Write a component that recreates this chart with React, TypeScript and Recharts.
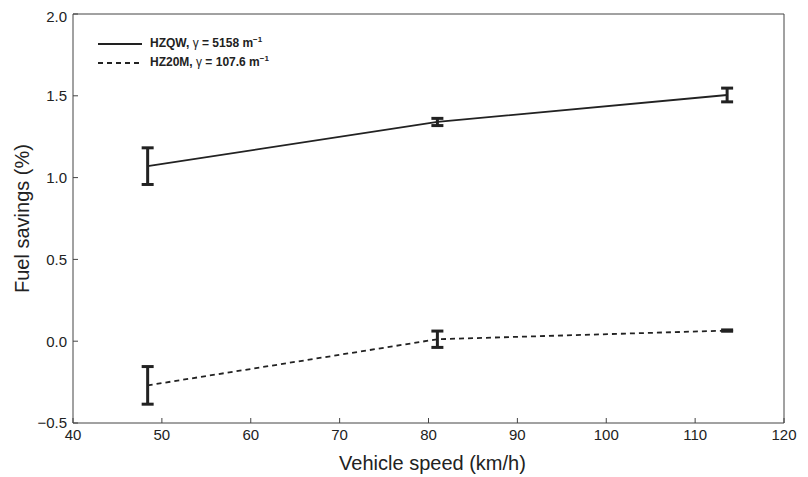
import { LineChart, Line, XAxis, YAxis, ErrorBar, ReferenceLine, Legend } from "recharts";

// vehicle speed (km/h) of the three test points
const speeds = [48.4, 81.0, 113.6];

// HZQW coating
const hzqwSavings = [1.07, 1.34, 1.505];
const hzqwError = [0.112, 0.022, 0.042];

// HZ20M coating
const hz20mSavings = [-0.27, 0.012, 0.065];
const hz20mError = [0.115, 0.05, 0.004];

const xTicks = [40, 50, 60, 70, 80, 90, 100, 110, 120];
const yTicks = [-0.5, 0, 0.5, 1.0, 1.5, 2.0];

const legendRows = [
  { name: "HZQW", gamma: "5158", dash: undefined as string | undefined },
  { name: "HZ20M", gamma: "107.6", dash: "5 4" },
];

const data = speeds.map((s, i) => ({
  speed: s,
  hzqw: hzqwSavings[i],
  hzqwErr: hzqwError[i],
  hz20m: hz20mSavings[i],
  hz20mErr: hz20mError[i],
}));

const INK = "#222";

const fmtY = (v: number) => (v < 0 ? "\u2212" + Math.abs(v).toFixed(1) : v.toFixed(1));

function LegendBox() {
  return (
    <div style={{ fontSize: 12, fontWeight: "bold", color: INK, lineHeight: "19px" }}>
      {legendRows.map((r) => (
        <div key={r.name} style={{ display: "flex", alignItems: "center", height: 19 }}>
          <svg width={46} height={6} style={{ display: "block" }}>
            <line x1={0} y1={3} x2={44} y2={3} stroke={INK} strokeWidth={2} strokeDasharray={r.dash} />
          </svg>
          <span style={{ marginLeft: 6, whiteSpace: "nowrap" }}>
            {r.name}, <span style={{ fontWeight: "normal" }}>γ</span> = {r.gamma} m
            <span style={{ fontSize: 8, verticalAlign: "super", lineHeight: 0 }}>−1</span>
          </span>
        </div>
      ))}
    </div>
  );
}

export default function App() {
  return (
    <div style={{ fontFamily: "'Liberation Sans', Arial, sans-serif" }}>
      <LineChart width={800} height={469} data={data} margin={{ top: 6, right: 24, left: 0, bottom: 0 }}>
        <XAxis
          dataKey="speed"
          type="number"
          domain={[40, 120]}
          ticks={xTicks}
          allowDataOverflow
          height={54}
          stroke="#444"
          tickSize={-5}
          tickMargin={11}
          tick={{ fill: INK, fontSize: 15 }}
          label={{ value: "Vehicle speed (km/h)", position: "insideBottom", offset: 7, dx: 4, fill: INK, fontSize: 20 }}
        />
        <YAxis
          type="number"
          domain={[-0.5, 2.0]}
          ticks={yTicks}
          allowDataOverflow
          width={65}
          stroke="#444"
          tickSize={-5}
          tickMargin={11}
          tickFormatter={fmtY}
          tick={{ fill: INK, fontSize: 15 }}
          label={{
            value: "Fuel savings (%)",
            angle: -90,
            position: "insideLeft",
            offset: 14,
            fill: INK,
            fontSize: 20,
            style: { textAnchor: "middle" },
          }}
        />
        <ReferenceLine y={2} stroke="#444" />
        <ReferenceLine x={120} stroke="#444" />
        <Legend
          layout="horizontal"
          verticalAlign="middle"
          align="center"
          content={<LegendBox />}
          wrapperStyle={{ left: 90, top: 26, width: 220 }}
        />
        <Line
          dataKey="hzqw"
          stroke={INK}
          strokeWidth={1.8}
          dot={false}
          isAnimationActive={false}
        >
          <ErrorBar dataKey="hzqwErr" width={6} strokeWidth={3} stroke={INK} isAnimationActive={false} />
        </Line>
        <Line
          dataKey="hz20m"
          stroke={INK}
          strokeWidth={1.8}
          strokeDasharray="5 4"
          dot={false}
          isAnimationActive={false}
        >
          <ErrorBar dataKey="hz20mErr" width={6} strokeWidth={3} stroke={INK} isAnimationActive={false} />
        </Line>
      </LineChart>
    </div>
  );
}
